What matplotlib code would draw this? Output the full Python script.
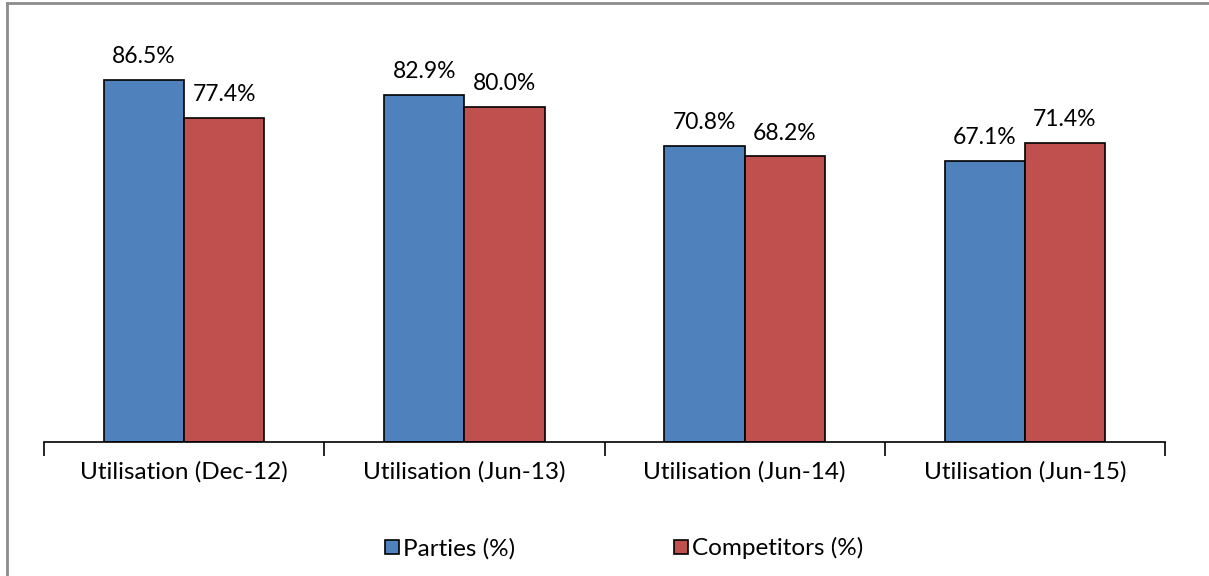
import matplotlib.pyplot as plt
import numpy as np
from matplotlib.lines import Line2D

plt.rcParams['font.family'] = ['Lato', 'DejaVu Sans']

periodos = ["Utilisation (Dec-12)", "Utilisation (Jun-13)", "Utilisation (Jun-14)", "Utilisation (Jun-15)"]
parties = [86.5, 82.9, 70.8, 67.1]
competitors = [77.4, 80.0, 68.2, 71.4]
series = ["Parties (%)", "Competitors (%)"]

AZUL = "#4F81BD"
ROJO = "#C0504D"

fig = plt.figure(figsize=(12.09, 5.76), dpi=100)
ax = fig.add_axes([0.0364, 0.2326, 0.9272, 0.727])

x = np.arange(len(periodos))
ancho = 0.286
b1 = ax.bar(x - ancho / 2, parties, ancho, color=AZUL, edgecolor="black", linewidth=1.2, label=series[0])
b2 = ax.bar(x + ancho / 2, competitors, ancho, color=ROJO, edgecolor="black", linewidth=1.2, label=series[1])

for barras, vals in ((b1, parties), (b2, competitors)):
    for b, v in zip(barras, vals):
        ax.text(b.get_x() + b.get_width() / 2, v + 3.0, "%.1f%%" % v,
                ha="center", va="bottom", fontsize=16.5)

ax.set_xlim(-0.5, len(periodos) - 0.5)
ax.set_ylim(0, 100)
ax.set_yticks([])
for s in ["top", "right", "left"]:
    ax.spines[s].set_visible(False)
ax.spines["bottom"].set_linewidth(1.2)

# ticks on the category boundaries, labels centred under each group
ax.set_xticks(np.arange(-0.5, len(periodos)), minor=False)
ax.set_xticklabels([])
ax.tick_params(axis="x", length=10, width=1.2, direction="out")
for i, p in enumerate(periodos):
    ax.text(i, -4.6, p, ha="center", va="top", fontsize=17.5, transform=ax.transData)

handles = [Line2D([], [], marker="s", linestyle="", markersize=10.5, markerfacecolor=c,
                  markeredgecolor="black", markeredgewidth=1.2) for c in (AZUL, ROJO)]
fig.legend(handles, series, loc="center", bbox_to_anchor=(0.515, 0.048), ncol=2,
           frameon=False, fontsize=17.5, columnspacing=6.4, handletextpad=0.05, handlelength=0.8)

# chart frame
fig.add_artist(Line2D([0.0055, 0.0055], [0, 0.995], transform=fig.transFigure, color="#8c8c8c", linewidth=2))
fig.add_artist(Line2D([0.0055, 1], [0.995, 0.995], transform=fig.transFigure, color="#8c8c8c", linewidth=2))

fig.savefig("out.png")
